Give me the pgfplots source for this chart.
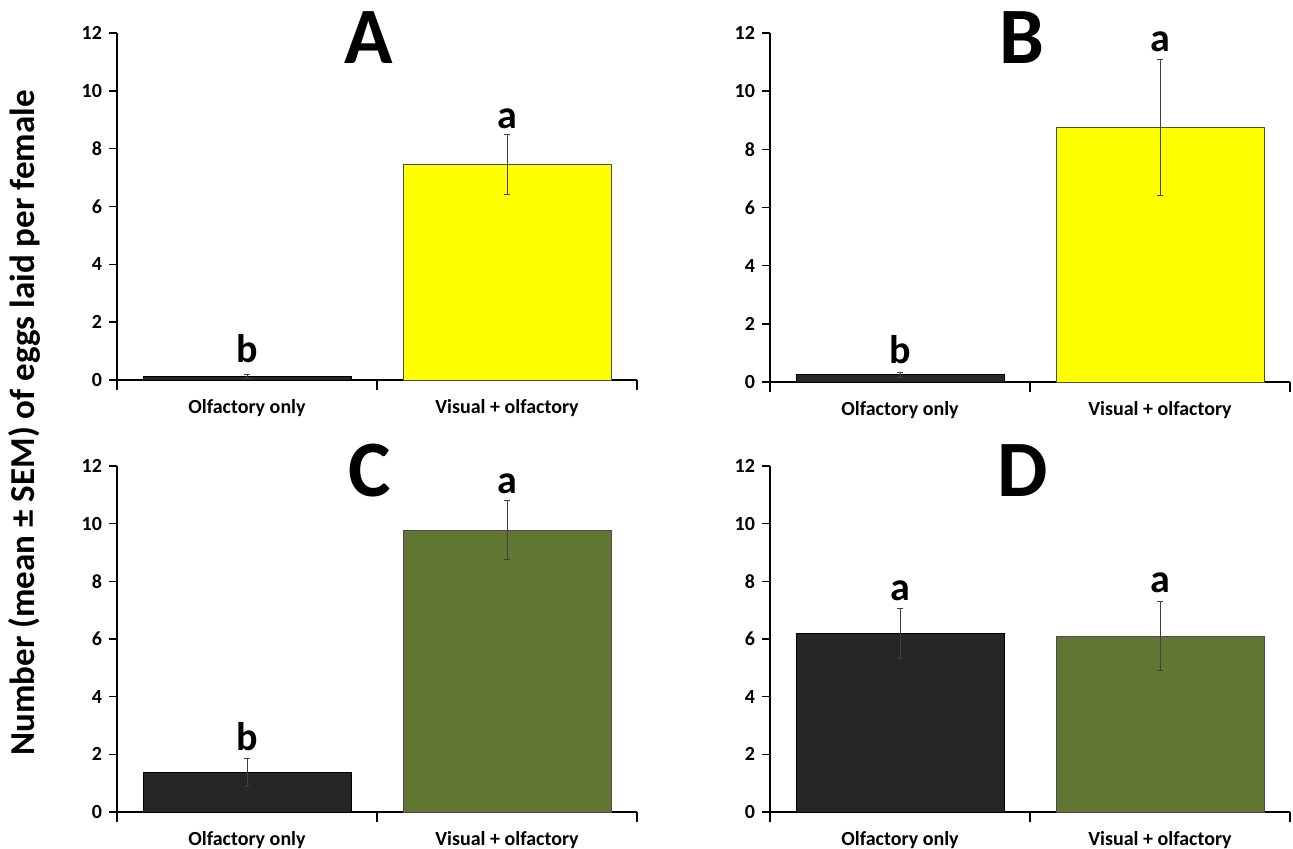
\documentclass[border=0pt]{standalone}
\usepackage{pgfplots}
\pgfplotsset{compat=1.18}
\usepackage{fontspec}
\setmainfont{Carlito}
\definecolor{darkbar}{RGB}{38,38,38}
\definecolor{yel}{RGB}{255,255,0}
\definecolor{grn}{RGB}{97,118,50}
\pgfplotsset{
  panel/.style={
    scale only axis, width=260pt, height=173.5pt,
    anchor=south west,
    axis lines*=left,
    axis line style={line width=1pt},
    xmin=-0.5, xmax=1.5, ymin=0, ymax=12,
    ytick={0,2,...,12},
    xtick={0,1},
    xticklabels={Olfactory only, Visual + olfactory},
    minor xtick={-0.5,0.5,1.5},
    tick align=outside,
    major tick length=4pt,
    minor tick length=5pt,
    major x tick style={draw=none},
    tick style={line width=0.8pt, black},
    ticklabel style={font=\bfseries\fontsize{10}{11}\selectfont},
    xticklabel style={yshift=-2pt},
    /pgf/number format/assume math mode=true,
    clip=false,
    bar width=0.8,
    ybar, bar shift=0pt,
  },
  errb/.style={error bars/.cd, y dir=both, y explicit,
    error bar style={line width=0.5pt, black!75},
    error mark options={rotate=90, mark size=1.6pt, line width=0.5pt, black!75}},
}
\newcommand{\lab}[1]{{\bfseries\fontsize{20}{22}\selectfont #1}}
\newcommand{\ttl}[1]{{\bfseries\fontsize{40}{40}\selectfont #1}}
\begin{document}
\begin{tikzpicture}
\path[use as bounding box] (0,0) rectangle (646.5pt,424.5pt);
% Panel A
\begin{axis}[panel, at={(58.5pt,234.5pt)}]
\addplot[fill=darkbar, draw=black, line width=0.4pt, errb] coordinates {(0,0.12) +- (0,0.08)};
\addplot[fill=yel, draw=black!70, line width=0.4pt, errb] coordinates {(1,7.45) +- (0,1.05)};
\node[anchor=base] at (axis cs:0,0.6) {\lab{b}};
\node[anchor=base] at (axis cs:1,8.7) {\lab{a}};
\node[anchor=base] at (axis cs:0.47,10.95) {\ttl{A}};
\end{axis}
% Panel B
\begin{axis}[panel, at={(385pt,233.5pt)}, height=174.5pt]
\addplot[fill=darkbar, draw=black, line width=0.4pt, errb] coordinates {(0,0.25) +- (0,0.08)};
\addplot[fill=yel, draw=black!70, line width=0.4pt, errb] coordinates {(1,8.75) +- (0,2.35)};
\node[anchor=base] at (axis cs:0,0.65) {\lab{b}};
\node[anchor=base] at (axis cs:1,11.35) {\lab{a}};
\node[anchor=base] at (axis cs:0.47,10.95) {\ttl{B}};
\end{axis}
% Panel C
\begin{axis}[panel, at={(58.5pt,18.5pt)}, height=173pt]
\addplot[fill=darkbar, draw=black, line width=0.4pt, errb] coordinates {(0,1.38) +- (0,0.48)};
\addplot[fill=grn, draw=black!70, line width=0.4pt, errb] coordinates {(1,9.78) +- (0,1.04)};
\node[anchor=base] at (axis cs:0,2.15) {\lab{b}};
\node[anchor=base] at (axis cs:1,11.05) {\lab{a}};
\node[anchor=base] at (axis cs:0.47,10.95) {\ttl{C}};
\end{axis}
% Panel D
\begin{axis}[panel, at={(385pt,18.5pt)}, height=173pt]
\addplot[fill=darkbar, draw=black, line width=0.4pt, errb] coordinates {(0,6.2) +- (0,0.87)};
\addplot[fill=grn, draw=black!70, line width=0.4pt, errb] coordinates {(1,6.1) +- (0,1.2)};
\node[anchor=base] at (axis cs:0,7.35) {\lab{a}};
\node[anchor=base] at (axis cs:1,7.6) {\lab{a}};
\node[anchor=base] at (axis cs:0.47,10.95) {\ttl{D}};
\end{axis}
\node[rotate=90, font=\bfseries\fontsize{17.5}{18}\selectfont] at (12pt,213pt) {Number (mean ± SEM) of eggs laid per female};
\end{tikzpicture}
\end{document}
